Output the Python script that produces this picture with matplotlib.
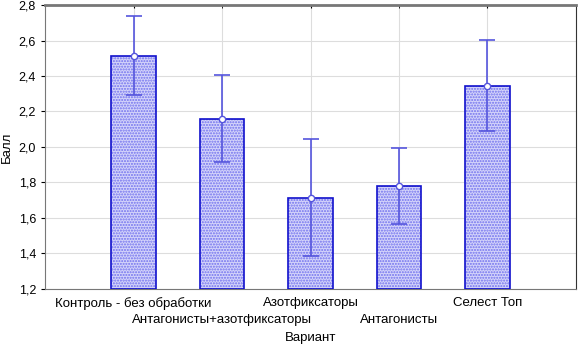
import matplotlib.pyplot as plt

plt.rcParams['font.family'] = ['Liberation Sans', 'DejaVu Sans']

variants = ['Контроль - без обработки', 'Антагонисты+азотфиксаторы',
            'Азотфиксаторы', 'Антагонисты', 'Селест Топ']
means = [2.513, 2.158, 1.713, 1.780, 2.344]
err_low = [2.293, 1.915, 1.386, 1.566, 2.090]
err_high = [2.738, 2.406, 2.045, 1.994, 2.603]

x = list(range(1, len(variants) + 1))
lower = [m - lo for m, lo in zip(means, err_low)]
upper = [hi - m for m, hi in zip(means, err_high)]

fig = plt.figure(figsize=(5.78, 3.46), dpi=100)
ax = fig.add_axes([0.078, 0.165, 0.9185, 0.8205])

# dotted fill, then the outline on top
ax.bar(x, [m - 1.2 for m in means], bottom=1.2, width=0.5, color='#d4d4fa',
       edgecolor='#7070ee', hatch='......', linewidth=0, zorder=2)
ax.bar(x, [m - 1.2 for m in means], bottom=1.2, width=0.5, fill=False,
       edgecolor='#1010cc', linewidth=1.2, zorder=3)
ax.errorbar(x, means, yerr=[lower, upper], fmt='o', color='#5555dd',
            mfc='white', mec='#5555dd', ms=4.5, capsize=6, elinewidth=1.2,
            capthick=1.2, zorder=4)

ax.set_xlim(0, 6)
ax.set_ylim(1.2, 2.8)
yt = [1.2 + 0.2 * i for i in range(9)]
ax.set_yticks(yt)
ax.set_yticklabels([f'{v:.1f}'.replace('.', ',') for v in yt], fontsize=9)

# labels in two staggered rows: odd positions as major, even as minor ticks
ax.set_xticks(x[0::2])
ax.set_xticklabels(variants[0::2], fontsize=9.5)
ax.set_xticks(x[1::2], minor=True)
ax.set_xticklabels(variants[1::2], minor=True, fontsize=9.5)
ax.tick_params(axis='x', which='major', length=2, direction='in',
               top=True, pad=6)
ax.tick_params(axis='x', which='minor', length=2, direction='in',
               top=True, pad=18)
ax.tick_params(axis='y', length=3, direction='out')
ax.grid(True, which='both', axis='x', color='#dddddd', linewidth=0.8)
ax.grid(True, axis='y', color='#dddddd', linewidth=0.8)
ax.set_axisbelow(True)

for s in ['left', 'bottom']:
    ax.spines[s].set_color('#777777')
ax.spines['top'].set_color('#777777')
ax.spines['top'].set_linewidth(2)
ax.spines['right'].set_color('#333333')

ax.set_xlabel('Вариант', fontsize=9.5)
ax.xaxis.set_label_coords(0.5, -0.152)
ax.set_ylabel('Балл', fontsize=9.5, labelpad=4)

fig.savefig('out.png', dpi=100)
